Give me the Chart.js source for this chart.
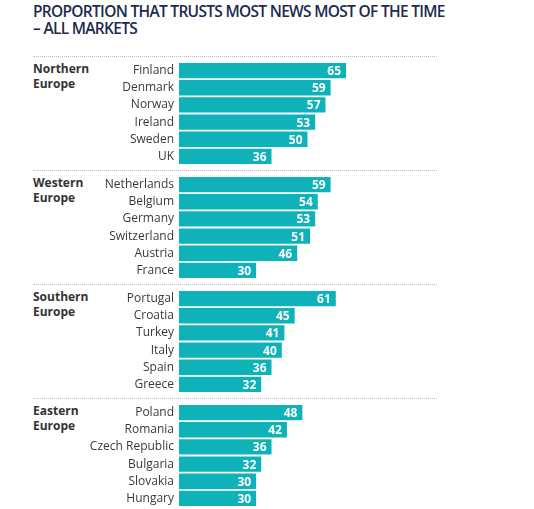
<!DOCTYPE html>
<html lang="en">
<head>
    <meta charset="UTF-8">
    <title>Proportion that trusts most news most of the time</title>
    <script src="https://cdn.jsdelivr.net/npm/chart.js"></script>
    <style>
        body {
            margin: 0;
            padding: 0;
            background: #fff;
            font-family: "Open Sans", Arial, sans-serif;
        }
        .page {
            position: relative;
            width: 534px;
            height: 509px;
            overflow: hidden;
        }
        h1 {
            position: absolute;
            left: 33px;
            top: 3px;
            margin: 0;
            font-size: 15.5px;
            line-height: 16.5px;
            font-weight: 600;
            color: #1d2a4e;
            letter-spacing: -0.7px;
        }
        .sep {
            position: absolute;
            left: 33px;
            width: 404px;
            border-top: 1px dotted #bdbdbd;
        }
        .group-label {
            position: absolute;
            left: 33px;
            font-size: 12px;
            line-height: 14.5px;
            font-weight: 700;
            color: #333;
        }
        .chart-box {
            position: absolute;
            left: 33px;
            width: 403px;
            height: 103px;
        }
    </style>
</head>
<body>
<div class="page" id="page">
    <h1>PROPORTION THAT TRUSTS MOST NEWS MOST OF THE TIME<br>– ALL MARKETS</h1>
</div>

<script>
    // Data
    const groupNames = ['Northern<br>Europe', 'Western<br>Europe', 'Southern<br>Europe', 'Eastern<br>Europe'];

    const northernCountries = ['Finland', 'Denmark', 'Norway', 'Ireland', 'Sweden', 'UK'];
    const northernValues = [65, 59, 57, 53, 50, 36];

    const westernCountries = ['Netherlands', 'Belgium', 'Germany', 'Switzerland', 'Austria', 'France'];
    const westernValues = [59, 54, 53, 51, 46, 30];

    const southernCountries = ['Portugal', 'Croatia', 'Turkey', 'Italy', 'Spain', 'Greece'];
    const southernValues = [61, 45, 41, 40, 36, 32];

    const easternCountries = ['Poland', 'Romania', 'Czech Republic', 'Bulgaria', 'Slovakia', 'Hungary'];
    const easternValues = [48, 42, 36, 32, 30, 30];

    const groupCountries = [northernCountries, westernCountries, southernCountries, easternCountries];
    const groupValues = [northernValues, westernValues, southernValues, easternValues];

    const barColor = '#0fb2b9';
    const firstSep = 56;
    const groupStep = 114;

    // white value labels inside the end of each bar
    const valueLabels = {
        id: 'valueLabels',
        afterDatasetsDraw(chart) {
            const ctx = chart.ctx;
            const meta = chart.getDatasetMeta(0);
            ctx.save();
            ctx.fillStyle = '#fff';
            ctx.font = '700 12px "Open Sans", Arial, sans-serif';
            ctx.textAlign = 'right';
            ctx.textBaseline = 'middle';
            meta.data.forEach((bar, i) => {
                ctx.fillText(chart.data.datasets[0].data[i], bar.x - 5, bar.y + 1);
            });
            ctx.restore();
        }
    };

    const page = document.getElementById('page');

    groupNames.forEach((name, g) => {
        const top = firstSep + groupStep * g;

        const sep = document.createElement('div');
        sep.className = 'sep';
        sep.style.top = top + 'px';
        page.appendChild(sep);

        const label = document.createElement('div');
        label.className = 'group-label';
        label.style.top = (top + 6) + 'px';
        label.innerHTML = name;
        page.appendChild(label);

        const box = document.createElement('div');
        box.className = 'chart-box';
        box.style.top = (top + 6) + 'px';
        const canvas = document.createElement('canvas');
        box.appendChild(canvas);
        page.appendChild(box);

        new Chart(canvas.getContext('2d'), {
            type: 'bar',
            data: {
                labels: groupCountries[g],
                datasets: [{
                    data: groupValues[g],
                    backgroundColor: barColor,
                    categoryPercentage: 1,
                    barPercentage: 0.89
                }]
            },
            options: {
                indexAxis: 'y',
                responsive: true,
                maintainAspectRatio: false,
                animation: false,
                layout: { padding: 0 },
                plugins: {
                    legend: { display: false },
                    tooltip: { enabled: false }
                },
                scales: {
                    x: {
                        display: false,
                        min: 0,
                        max: 100
                    },
                    y: {
                        grid: { display: false, drawTicks: false },
                        border: { display: false },
                        ticks: {
                            autoSkip: false,
                            padding: 5,
                            color: '#3a3a3a',
                            font: { family: '"Open Sans", Arial, sans-serif', size: 12 }
                        },
                        afterFit(scale) {
                            scale.width = 146;
                            scale.paddingTop = 0;
                            scale.paddingBottom = 0;
                        }
                    }
                }
            },
            plugins: [valueLabels]
        });
    });

    const lastSep = document.createElement('div');
    lastSep.className = 'sep';
    lastSep.style.top = (firstSep + groupStep * 4) + 'px';
    page.appendChild(lastSep);
</script>
</body>
</html>
